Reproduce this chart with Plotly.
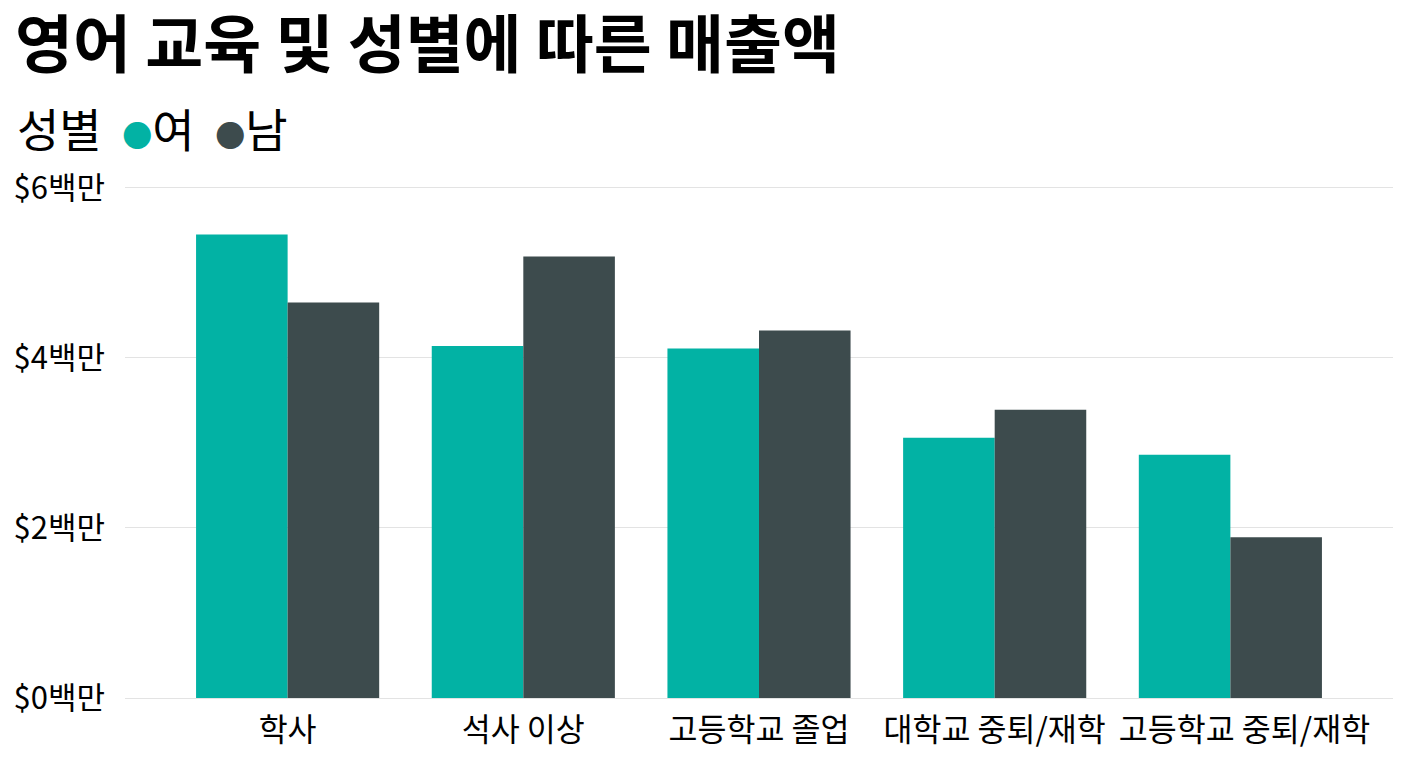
import plotly.graph_objects as go

# 데이터 (그림에서 읽은 값, 단위: 백만 달러)
education = ["학사", "석사 이상", "고등학교 졸업", "대학교 중퇴/재학", "고등학교 중퇴/재학"]
female_sales = [5.45, 4.14, 4.11, 3.06, 2.86]
male_sales = [4.65, 5.19, 4.32, 3.39, 1.89]
y_ticks = [0, 2, 4, 6]
y_tick_labels = ["$0백만", "$2백만", "$4백만", "$6백만"]
# 마지막 라벨은 겹치지 않도록 조금 오른쪽으로 밀림
x_tick_labels = education[:-1] + ["&nbsp;&nbsp;&nbsp;&nbsp;" + education[-1]]

TEAL = "#02B2A4"
DARK = "#3D4B4D"
FONT = "Noto Sans CJK KR"

fig = go.Figure()
fig.add_trace(go.Bar(name="여", x=education, y=female_sales, marker_color=TEAL, marker_line_width=0))
fig.add_trace(go.Bar(name="남", x=education, y=male_sales, marker_color=DARK, marker_line_width=0))

# 페이지 body 여백(8px)을 감안해 크기를 조금 줄임
fig.update_layout(
    width=1400, height=760,
    barmode="group", bargap=0.223, bargroupgap=0,
    showlegend=False,
    plot_bgcolor="white", paper_bgcolor="white",
    font=dict(family=FONT, color="#111111"),
    margin=dict(l=117, r=15, t=178, b=70),
    title=dict(text="<b>영어 교육 및 성별에 따른 매출액</b>", x=0.005, xanchor="left",
               y=0.951, yanchor="middle", font=dict(size=63, color="#000000", family=FONT)),
)

# 범례 (원형 마커)
fig.add_annotation(
    xref="paper", yref="paper", x=-0.0868, y=1.115, xanchor="left", yanchor="middle",
    showarrow=False, align="left",
    text=("성별&nbsp; <span style='color:%s;font-size:30px'>●</span>여&nbsp; "
          "<span style='color:%s;font-size:30px'>●</span>남") % (TEAL, DARK),
    font=dict(size=46, color="#000000", family=FONT),
)

fig.update_xaxes(
    type="category", range=[-0.69, 4.69], showgrid=False, showline=False,
    automargin=False, tickangle=0,
    tickvals=education, ticktext=x_tick_labels,
    ticks="", ticklabelstandoff=10, tickfont=dict(size=31.5, color="#000000"),
)
fig.update_yaxes(
    range=[0, 6.02], tickvals=y_ticks, ticktext=y_tick_labels,
    automargin=False,
    showgrid=True, gridcolor="#e3e3e3", gridwidth=1,
    zeroline=True, zerolinecolor="#e3e3e3", zerolinewidth=1,
    showline=False, ticks="", ticklabelstandoff=19,
    tickfont=dict(size=31, color="#000000"),
)

fig.write_html("out.html")
